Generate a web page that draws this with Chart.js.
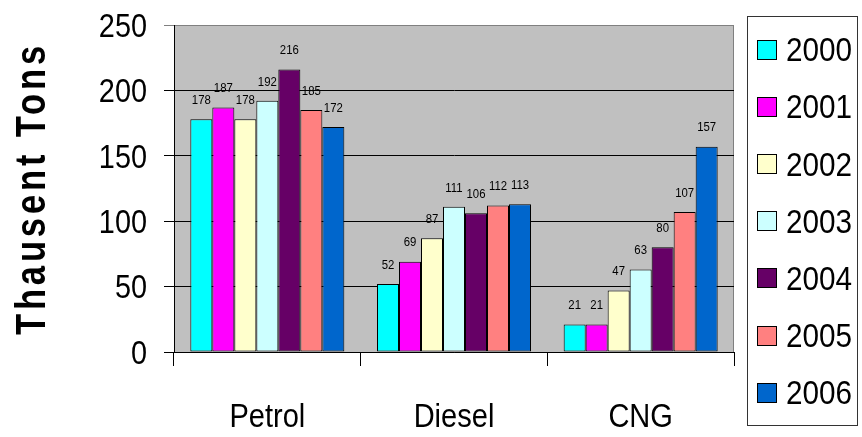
<!DOCTYPE html>
<html>
<head>
<meta charset="utf-8">
<script src="https://cdn.jsdelivr.net/npm/chart.js@4/dist/chart.umd.min.js"></script>
<style>
  html, body { margin: 0; padding: 0; background: #ffffff; }
  #wrap { width: 862px; height: 437px; }
</style>
</head>
<body>
<div id="wrap"><canvas id="c" width="862" height="437"></canvas></div>
<script>
// Fuel types on the x axis
const categories = ['Petrol', 'Diesel', 'CNG'];
// One series per year
const years = ['2000', '2001', '2002', '2003', '2004', '2005', '2006'];
const v2000 = [178, 52, 21];
const v2001 = [187, 69, 21];
const v2002 = [178, 87, 47];
const v2003 = [192, 111, 63];
const v2004 = [216, 106, 80];
const v2005 = [185, 112, 107];
const v2006 = [172, 113, 157];
// Value axis
const yMin = 0;
const yMax = 250;
const yStep = 50;
const yTitle = 'Thausent Tons';

const seriesValues = [v2000, v2001, v2002, v2003, v2004, v2005, v2006];
const seriesColors = ['#00FFFF', '#FF00FF', '#FFFFCC', '#CCFFFF', '#660066', '#FF8080', '#0066CC'];

const FONT = "'Liberation Sans', Arial, sans-serif";
Chart.defaults.font.family = FONT;
Chart.defaults.color = '#000000';

// Text in a horizontally condensed Arial-like face
function narrowText(ctx, text, x, y, opt) {
  ctx.save();
  ctx.translate(x, y);
  if (opt.rotate) ctx.rotate(opt.rotate);
  ctx.scale(opt.squeeze, 1);
  ctx.font = (opt.bold ? 'bold ' : '') + opt.size + 'px ' + FONT;
  if (opt.spacing && 'letterSpacing' in ctx) ctx.letterSpacing = opt.spacing + 'px';
  ctx.fillStyle = '#000000';
  ctx.textAlign = opt.align || 'left';
  ctx.textBaseline = 'alphabetic';
  ctx.fillText(text, 0, 0);
  ctx.restore();
}

// Grey plot area with a thin frame on top and right
const plotBackground = {
  id: 'plotBackground',
  beforeDraw(chart) {
    const { ctx, chartArea: a } = chart;
    ctx.save();
    ctx.fillStyle = '#C0C0C0';
    ctx.fillRect(a.left, a.top, a.right - a.left, a.bottom - a.top);
    ctx.strokeStyle = '#808080';
    ctx.lineWidth = 1;
    ctx.beginPath();
    ctx.moveTo(a.left, Math.round(a.top) + 0.5);
    ctx.lineTo(Math.round(a.right) - 0.5, Math.round(a.top) + 0.5);
    ctx.lineTo(Math.round(a.right) - 0.5, a.bottom);
    ctx.stroke();
    ctx.restore();
  }
};

// Value printed above each bar
const barValues = {
  id: 'barValues',
  afterDatasetsDraw(chart) {
    const { ctx } = chart;
    chart.data.datasets.forEach((ds, di) => {
      const meta = chart.getDatasetMeta(di);
      meta.data.forEach((bar, i) => {
        narrowText(ctx, String(ds.data[i]), bar.x, bar.y - 15.3,
          { size: 13, squeeze: 0.875, align: 'center' });
      });
    });
  }
};

// Axis tick labels, axis title and the framed legend
const axisText = {
  id: 'axisText',
  afterDraw(chart) {
    const { ctx, chartArea: a } = chart;
    const xs = chart.scales.x, ys = chart.scales.y;

    ys.ticks.forEach((t) => {
      const py = ys.getPixelForValue(t.value);
      narrowText(ctx, String(t.value), 147, py + 11.8,
        { size: 33, squeeze: 0.875, align: 'right' });
    });
    xs.ticks.forEach((t, i) => {
      const px = xs.getPixelForTick(i);
      narrowText(ctx, chart.data.labels[i], px, 427,
        { size: 33, squeeze: 0.88, align: 'center' });
    });

    narrowText(ctx, yTitle, 45, (a.top + a.bottom) / 2,
      { size: 42, bold: true, squeeze: 0.82, spacing: 4.75, align: 'center', rotate: -Math.PI / 2 });

    const x0 = 747, y0 = 16, w = 110, h = 409;
    ctx.save();
    ctx.strokeStyle = '#333333';
    ctx.lineWidth = 1;
    ctx.strokeRect(x0 + 0.5, y0 + 0.5, w, h);
    ctx.restore();
    chart.data.datasets.forEach((ds, i) => {
      const cy = 49.5 + i * 57.1;
      const sy = Math.round(cy - 9.5);
      ctx.save();
      ctx.fillStyle = ds.backgroundColor;
      ctx.fillRect(757, sy, 19, 19);
      ctx.strokeStyle = '#000000';
      ctx.lineWidth = 1;
      ctx.strokeRect(757.5, sy + 0.5, 19, 19);
      ctx.restore();
      narrowText(ctx, ds.label, 786, cy + 11.8, { size: 33, squeeze: 0.9 });
    });
  }
};

new Chart(document.getElementById('c'), {
  type: 'bar',
  data: {
    labels: categories,
    datasets: years.map((y, i) => ({
      label: y,
      data: seriesValues[i],
      backgroundColor: seriesColors[i],
      borderColor: '#000000',
      borderWidth: 1,
      borderSkipped: false,
      categoryPercentage: 0.825,
      barPercentage: 1.0
    }))
  },
  options: {
    responsive: false,
    animation: false,
    devicePixelRatio: 1,
    layout: { padding: { top: 25, right: 128, bottom: 0, left: 0 } },
    plugins: {
      legend: { display: false },
      tooltip: { enabled: false }
    },
    scales: {
      x: {
        afterFit(s) { s.height = 85; },
        grid: {
          offset: true,
          drawOnChartArea: false,
          drawTicks: true,
          tickLength: 14,
          color: '#000000'
        },
        border: { color: '#000000', width: 1 },
        ticks: { display: false }
      },
      y: {
        min: yMin,
        max: yMax,
        afterFit(s) { s.width = 174; },
        grid: {
          tickLength: 10,
          color: (c) => (c.tick && c.tick.value === yMax ? '#808080' : '#000000')
        },
        border: { color: '#000000', width: 1 },
        ticks: { display: false, stepSize: yStep }
      }
    }
  },
  plugins: [plotBackground, barValues, axisText]
});
</script>
</body>
</html>
